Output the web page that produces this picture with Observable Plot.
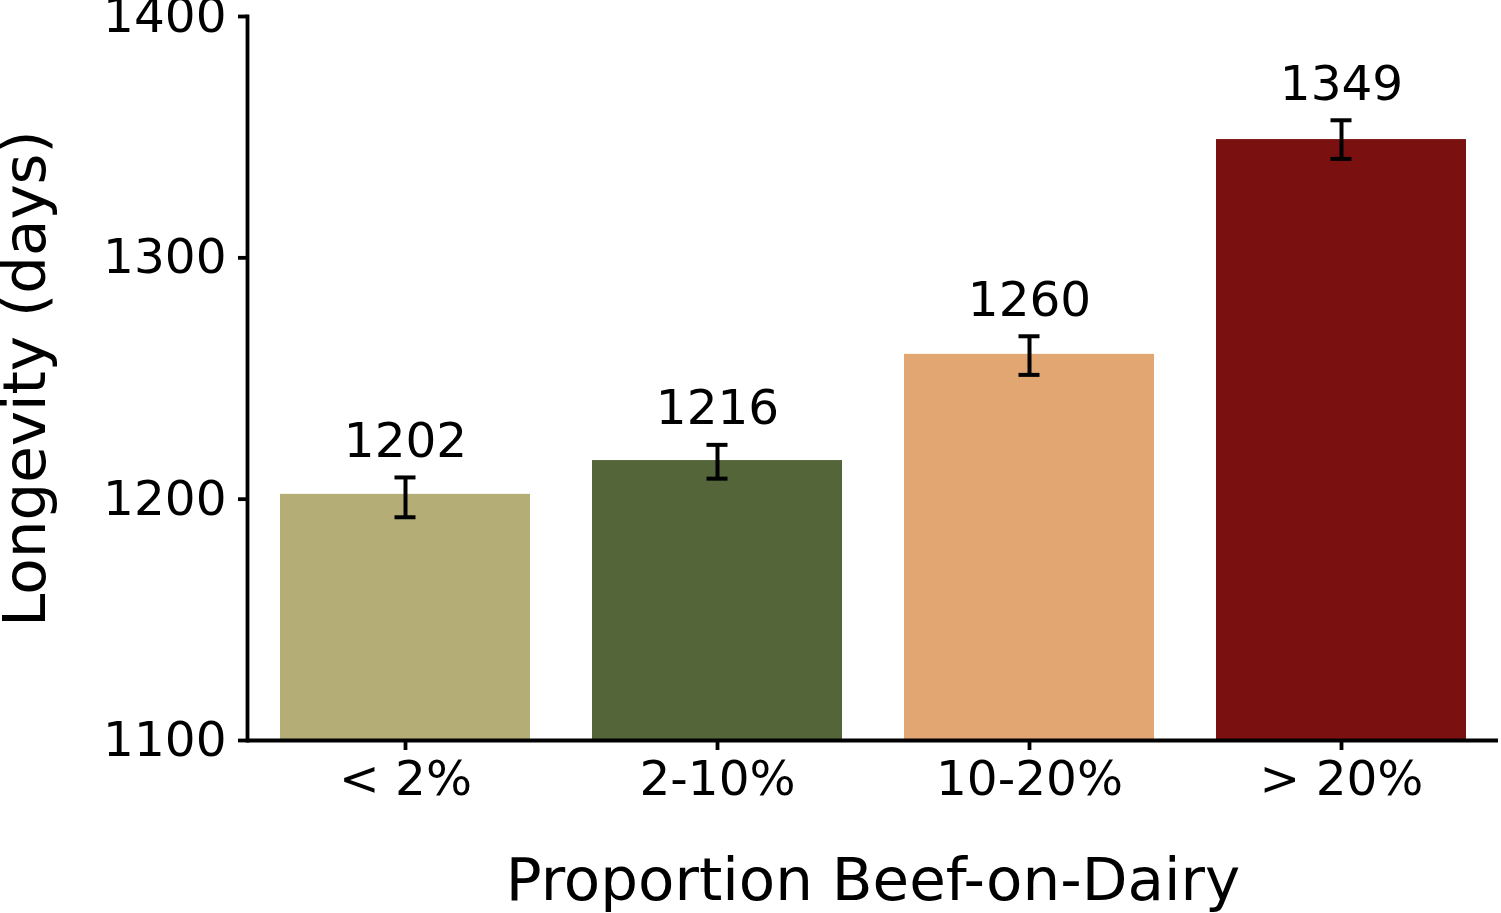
<!DOCTYPE html>
<html><head><meta charset="utf-8">
<script src="https://cdn.jsdelivr.net/npm/d3@7"></script>
<script src="https://cdn.jsdelivr.net/npm/@observablehq/plot@0.6"></script>
<style>html,body{margin:0;padding:0;background:#fff}</style>
</head><body><div id="chart"></div>
<script>
const categories = ["< 2%", "2-10%", "10-20%", "> 20%"];
const values = [1202, 1216, 1260, 1349];
const ciLow = [1192.5, 1208.5, 1251.5, 1341];
const ciHigh = [1209, 1222.5, 1267.5, 1357];
const colors = ["#b4ae76", "#546539", "#e2a673", "#7a1010"];
const yTicks = [1100, 1200, 1300, 1400];
const xTitle = "Proportion Beef-on-Dairy";
const yTitle = "Longevity (days)";

const data = categories.map((c, i) => ({category: c, value: values[i], lo: ciLow[i], hi: ciHigh[i]}));

const chart = Plot.plot({
  width: 1501,
  height: 913,
  marginLeft: 247,
  marginRight: 3,
  marginTop: 16,
  marginBottom: 173,
  style: {fontFamily: "DejaVu Sans", background: "white", color: "black", overflow: "visible"},
  x: {domain: categories, paddingInner: 0.2, paddingOuter: 0.1, label: null},
  y: {domain: [1100, 1400], label: null},
  color: {domain: categories, range: colors},
  marks: [
    Plot.barY(data, {x: "category", y1: 1100, y2: "value", fill: "category"}),
    Plot.ruleX(data, {x: "category", y1: "lo", y2: "hi", stroke: "black", strokeWidth: 4}),
    Plot.tickY(data, {x: "category", y: "lo", stroke: "black", strokeWidth: 4, insetLeft: 114.5, insetRight: 114.5}),
    Plot.tickY(data, {x: "category", y: "hi", stroke: "black", strokeWidth: 4, insetLeft: 114.5, insetRight: 114.5}),
    Plot.text(data, {x: "category", y: "hi", text: d => String(d.value), dy: -36, fontSize: 48.5, lineAnchor: "middle", fill: "black"}),
    Plot.axisY({ticks: yTicks, tickFormat: d => String(d), tickSize: 9, tickPadding: 12, fontSize: 48.5, strokeWidth: 3.8, label: null}),
    Plot.axisX({tickSize: 10, tickPadding: 10, fontSize: 48.5, strokeWidth: 3.8, label: null}),
    Plot.ruleY([1100], {stroke: "black", strokeWidth: 3.8}),
    Plot.frame({anchor: "left", stroke: "black", strokeWidth: 3.8}),
    Plot.text([yTitle], {frameAnchor: "left", dx: -222, rotate: -90, fontSize: 59.5, fill: "black", textAnchor: "middle", lineAnchor: "middle"}),
    Plot.text([xTitle], {frameAnchor: "bottom", dy: 140, fontSize: 59.5, fill: "black", textAnchor: "middle", lineAnchor: "middle"})
  ]
});
document.getElementById("chart").appendChild(chart);
</script>
</body></html>
